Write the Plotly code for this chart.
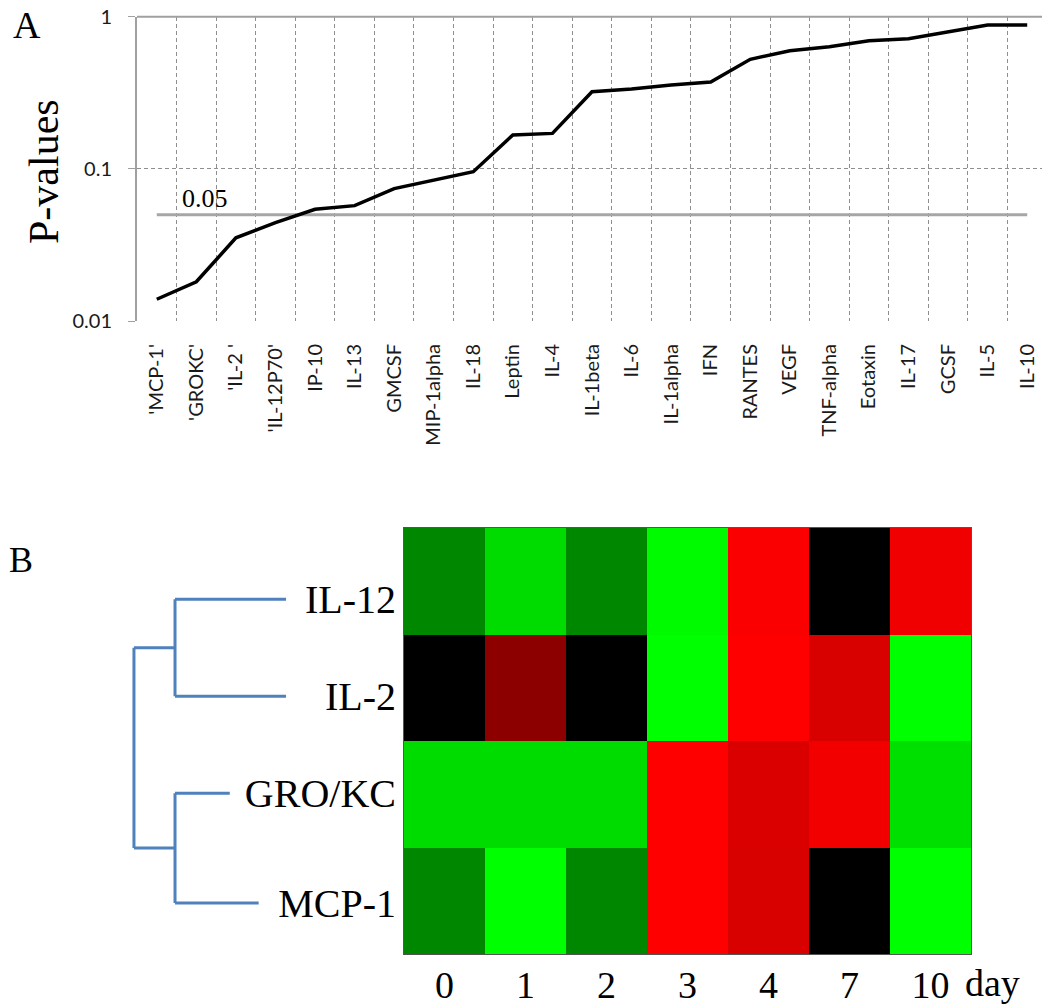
import plotly.graph_objects as go

# ---------------- Panel A data ----------------
cytokines = ["'MCP-1'", "'GROKC'", "'IL-2 '", "'IL-12P70'", "IP-10", "IL-13", "GMCSF",
             "MIP-1alpha", "IL-18", "Leptin", "IL-4", "IL-1beta", "IL-6", "IL-1alpha",
             "IFN", "RANTES", "VEGF", "TNF-alpha", "Eotaxin", "IL-17", "GCSF", "IL-5", "IL-10"]
pvalues = [0.0139, 0.0181, 0.0352, 0.0443, 0.0542, 0.0573, 0.0741, 0.0842, 0.0958,
           0.167, 0.171, 0.321, 0.335, 0.356, 0.372, 0.525, 0.598, 0.635, 0.695,
           0.717, 0.793, 0.882, 0.882]
threshold = 0.05
ytick_vals = [0.01, 0.1, 1]
ytick_text = ["0.01", "0.1", "1"]

# ---------------- Panel B data ----------------
days = ["0", "1", "2", "3", "4", "7", "10"]
genes = ["IL-12", "IL-2", "GRO/KC", "MCP-1"]
expr = [
    [-0.53, -0.86, -0.53, -0.98, 0.98, 0.0, 0.94],
    [0.0, 0.55, 0.0, -1.0, 1.0, 0.85, -1.0],
    [-0.86, -0.86, -0.86, 1.0, 0.86, 0.95, -0.88],
    [-0.53, -1.0, -0.53, 1.0, 0.85, 0.0, -1.0],
]
# dendrogram: leaf positions (row units), leaf branch ends, clusters (leafA, leafB, height), root height
leaf_pos = [0.17, 1.08, 1.99, 3.02]
leaf_end = [0.0, 0.0, 0.37, 0.18]
clusters = [(0, 1, 0.73), (2, 3, 0.73)]
root_height = 1.0

# the page has an 8px body margin; the figure fills the rest of the window
PAD = 8
W, H = 1050 - PAD, 1007 - PAD


def fx(px):
    return (px - PAD) / W


def fy(py):
    return 1 - (py - PAD) / H


SERIF = "Liberation Serif, Times New Roman, serif"
SANS = "Lato, Carlito, Calibri, sans-serif"
GRID = "#8f8f8f"

fig = go.Figure()

# Panel A traces
fig.add_trace(go.Scatter(x=cytokines, y=[threshold] * len(cytokines), mode="lines",
                         line=dict(color="#a6a6a6", width=3), xaxis="x", yaxis="y",
                         hoverinfo="skip", showlegend=False))
fig.add_trace(go.Scatter(x=cytokines, y=pvalues, mode="lines",
                         line=dict(color="black", width=3.5), xaxis="x", yaxis="y",
                         showlegend=False))

# Panel B heatmap
fig.add_trace(go.Heatmap(z=expr, x=days, y=genes, xaxis="x2", yaxis="y2",
                         colorscale=[[0, "#00ff00"], [0.5, "#000000"], [1, "#ff0000"]],
                         zmin=-1, zmax=1, showscale=False, xgap=0, ygap=0))

# Dendrogram built from the cluster data
dx, dy = [], []
cluster_node = []
for (a, b, h) in clusters:
    for leaf in (a, b):
        dx += [leaf_end[leaf], h, None]
        dy += [leaf_pos[leaf], leaf_pos[leaf], None]
    dx += [h, h, None]
    dy += [leaf_pos[a], leaf_pos[b], None]
    cluster_node.append((h, (leaf_pos[a] + leaf_pos[b]) / 2))
for (h, ny) in cluster_node:
    dx += [h, root_height, None]
    dy += [ny, ny, None]
dx += [root_height, root_height]
dy += [cluster_node[0][1], cluster_node[1][1]]
fig.add_trace(go.Scatter(x=dx, y=dy, mode="lines", line=dict(color="#4f81bd", width=3),
                         xaxis="x3", yaxis="y3", showlegend=False, hoverinfo="skip"))

heat_ydom = [fy(954), fy(528)]

fig.update_layout(
    width=W, height=H, margin=dict(l=0, r=0, t=0, b=0, autoexpand=False),
    paper_bgcolor="white", plot_bgcolor="white", showlegend=False,
    xaxis=dict(domain=[fx(137), fx(1047)], anchor="y", type="category",
               tickson="boundaries", showgrid=True, gridcolor=GRID, griddash="4px,3px",
               gridwidth=1.4, ticks="", tickangle=-90, ticklabelstandoff=18,
               tickfont=dict(family=SANS, size=20, color="#1a1a1a"),
               range=[-0.5, len(cytokines) - 0.5], showline=False, zeroline=False,
               automargin=False),
    yaxis=dict(domain=[fy(321), fy(16.7)], anchor="x", type="log", range=[-2, 0],
               tickvals=ytick_vals, ticktext=ytick_text, showgrid=True, gridcolor=GRID,
               griddash="4px,3px", gridwidth=1.4, showline=True, linecolor="#a0a0a0",
               linewidth=2, ticks="outside", ticklen=7, tickcolor="#a0a0a0",
               ticklabelstandoff=12, ticklabeloverflow="allow",
               tickfont=dict(family=SANS, size=20, color="#1a1a1a"),
               zeroline=False, automargin=False),
    xaxis2=dict(domain=[fx(404), fx(971)], anchor="y2", type="category", ticks="",
                tickfont=dict(family=SERIF, size=38, color="black"), showgrid=False,
                showline=True, mirror=True, linecolor="#555555", linewidth=1,
                ticklabelstandoff=-3, zeroline=False, automargin=False),
    yaxis2=dict(domain=heat_ydom, anchor="x2", type="category", autorange="reversed",
                showticklabels=False, ticks="", showgrid=False, showline=True, mirror=True,
                linecolor="#555555", linewidth=1, zeroline=False, automargin=False),
    xaxis3=dict(domain=[fx(129.4), fx(290.6)], anchor="y3", range=[1.03, -0.03],
                visible=False, automargin=False),
    yaxis3=dict(domain=heat_ydom, anchor="free", position=fx(404), side="left",
                range=[3.5, -0.5], tickvals=leaf_pos, ticktext=genes, ticks="",
                showgrid=False, showline=False, zeroline=False, ticklabelstandoff=8,
                tickfont=dict(family=SERIF, size=40, color="black"), automargin=False),
)

# Top solid border of panel A
fig.add_shape(type="line", xref="x domain", yref="y domain", x0=0, x1=1, y0=1, y1=1,
              line=dict(color="#a0a0a0", width=2))

fig.add_annotation(text="0.05", xref="x", yref="y", x=0.58, y=-1.30103,
                   xanchor="left", yanchor="middle", yshift=16, showarrow=False,
                   font=dict(family=SERIF, size=26, color="black"))
fig.add_annotation(text="P-values", xref="paper", yref="paper", x=fx(44), y=fy(172),
                   textangle=-90, showarrow=False, xanchor="center", yanchor="middle",
                   font=dict(family=SERIF, size=42, color="black"))
fig.add_annotation(text="A", xref="paper", yref="paper", x=fx(12), y=fy(25),
                   showarrow=False, xanchor="left", yanchor="middle", borderpad=0,
                   font=dict(family=SERIF, size=38, color="black"))
fig.add_annotation(text="B", xref="paper", yref="paper", x=fx(8), y=fy(560),
                   showarrow=False, xanchor="left", yanchor="middle", borderpad=0,
                   font=dict(family=SERIF, size=36, color="black"))
fig.add_annotation(text="day", xref="paper", yref="paper", x=fx(963), y=fy(983),
                   showarrow=False, xanchor="left", yanchor="middle",
                   font=dict(family=SERIF, size=38, color="black"))

fig.write_html("out.html")
